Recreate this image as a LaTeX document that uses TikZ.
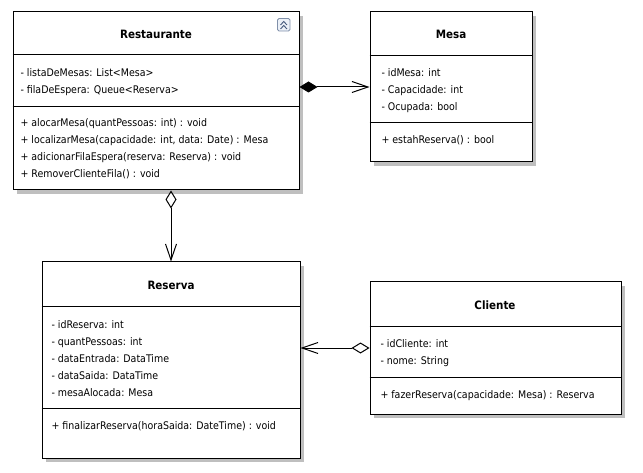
\documentclass[tikz,border=0pt]{standalone}
\usepackage{fontspec}
\setmainfont{DejaVu Sans Condensed}
\usetikzlibrary{arrows.meta,shadows}

\definecolor{iconframe}{RGB}{128,144,170}
\definecolor{iconfill}{RGB}{236,241,248}
\definecolor{iconmark}{RGB}{70,90,125}
\newcommand{\memberfont}{\fontsize{10.5}{12}\selectfont}
\newcommand{\titlefont}{\fontsize{11.5}{13}\selectfont\bfseries}

\begin{document}
\begin{tikzpicture}[x=1pt,y=-1pt,line width=1pt,
    class/.style={rectangle,draw,fill=white,inner sep=0pt,
      drop shadow={shadow xshift=4pt,shadow yshift=-4pt,fill=black!25,opacity=1}},
    compos/.style={{Diamond[length=18pt,width=11pt]}-{Straight Barb[length=16pt,width=11pt]}},
    aggreg/.style={{Diamond[open,length=18pt,width=11pt]}-{Straight Barb[length=16pt,width=11pt]}}]

  \useasboundingbox[fill=white] (0,0) rectangle (643,473);

  % class boxes
  \begin{scope}[every node/.style={class}]
    \node[minimum width=286pt,minimum height=178pt] (restaurante) at (156,101) {};
    \node[minimum width=162pt,minimum height=150pt] (mesa)        at (451,87)  {};
    \node[minimum width=258pt,minimum height=196pt] (reserva)     at (171,360) {};
    \node[minimum width=251pt,minimum height=132pt] (cliente)     at (495.5,348) {};
  \end{scope}

  % compartments
  \draw (restaurante.west |- 0,55)  -- (restaurante.east |- 0,55);
  \draw (restaurante.west |- 0,107) -- (restaurante.east |- 0,107);
  \draw (mesa.west |- 0,56)         -- (mesa.east |- 0,56);
  \draw (mesa.west |- 0,123)        -- (mesa.east |- 0,123);
  \draw (reserva.west |- 0,307)     -- (reserva.east |- 0,307);
  \draw (reserva.west |- 0,408)     -- (reserva.east |- 0,408);
  \draw (cliente.west |- 0,326)     -- (cliente.east |- 0,326);
  \draw (cliente.west |- 0,377)     -- (cliente.east |- 0,377);

  % collapse icon
  \draw[iconframe,fill=iconfill,rounded corners=1.5pt,line width=0.8pt] (277.5,18.5) rectangle (290,31);
  \draw[iconmark,line width=0.9pt] (280.5,25) -- (283.75,21.5) -- (287,25)
    (280.5,29) -- (283.75,25.5) -- (287,29);

  % titles
  \begin{scope}[every node/.style={anchor=base,font=\titlefont}]
    \node (restaurantetitle) at (156,39)  {Restaurante};
    \node (mesatitle)        at (451,39)  {Mesa};
    \node (reservatitle)     at (171,290) {Reserva};
    \node (clientetitle)     at (495,309) {Cliente};
  \end{scope}

  % members
  \begin{scope}[every node/.style={anchor=base west,font=\memberfont,inner sep=0pt}]
    \node (ra1) at (20,77)  {- listaDeMesas: List<Mesa>};
    \node (ra2) at (20,94)  {- filaDeEspera: Queue<Reserva>};
    \node (rm1) at (20,127) {+ alocarMesa(quantPessoas: int) : void};
    \node (rm2) at (20,144) {+ localizarMesa(capacidade: int, data: Date) : Mesa};
    \node (rm3) at (20,161) {+ adicionarFilaEspera(reserva: Reserva) : void};
    \node (rm4) at (20,178) {+ RemoverClienteFila() : void};

    \node (ma1) at (381,77)  {- idMesa: int};
    \node (ma2) at (381,94)  {- Capacidade: int};
    \node (ma3) at (381,111) {- Ocupada: bool};
    \node (mm1) at (381,144) {+ estahReserva() : bool};

    \node (va1) at (51,328) {- idReserva: int};
    \node (va2) at (51,345) {- quantPessoas: int};
    \node (va3) at (51,362) {- dataEntrada: DataTime};
    \node (va4) at (51,379) {- dataSaida: DataTime};
    \node (va5) at (51,396) {- mesaAlocada: Mesa};
    \node (vm1) at (51,429) {+ finalizarReserva(horaSaida: DateTime) : void};

    \node (ca1) at (380,347) {- idCliente: int};
    \node (ca2) at (380,364) {- nome: String};
    \node (cm1) at (380,398) {+ fazerReserva(capacidade: Mesa) : Reserva};
  \end{scope}

  % associations
  \draw[compos] (restaurante.east |- mesa.west) -- (mesa.west);
  \draw[aggreg] (restaurante.south -| reserva.north) -- (reserva.north);
  \draw[aggreg] (cliente.west) -- (reserva.east |- cliente.west);

\end{tikzpicture}
\end{document}
